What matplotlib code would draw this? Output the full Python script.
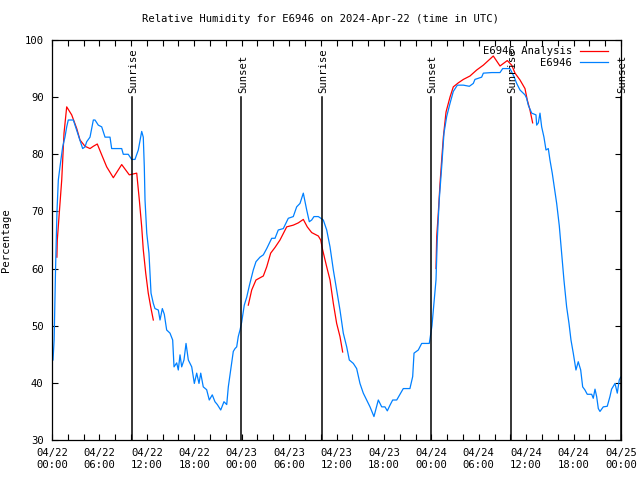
import numpy as np
import matplotlib
matplotlib.use('Agg')
import matplotlib.pyplot as plt

# hours since 2024-04-22 00:00 UTC
obs_hours = [0.13, 0.27, 0.45, 0.63, 0.80, 1.01, 1.35, 1.64, 1.86, 2.06, 2.70, 3.13, 3.54, 3.88,
             4.18, 4.39, 4.81, 5.23, 5.44, 5.86, 6.29, 6.71, 7.34, 7.55, 8.82, 9.02, 9.65, 10.08,
             10.50, 10.92, 11.35, 11.55, 11.68, 11.77, 11.99, 12.27, 12.40, 12.53, 12.82, 13.03,
             13.45, 13.67, 13.96, 14.21, 14.51, 14.93, 15.27, 15.44, 15.78, 15.98, 16.20, 16.41,
             16.70, 16.96, 17.25, 17.68, 18.01, 18.31, 18.60, 18.82, 19.14, 19.57, 19.90, 20.28,
             20.62, 20.92, 21.35, 21.76, 22.11, 22.31, 22.61, 22.94, 23.16, 23.37, 23.57, 23.79,
             24.00, 24.33, 24.64, 24.97, 25.15, 25.47, 25.81, 26.32, 26.74, 27.17, 27.80, 28.22,
             28.63, 29.27, 29.90, 30.53, 30.96, 31.38, 31.80, 32.23, 32.56, 32.86, 33.15, 33.70,
             34.33, 34.76, 35.18, 35.60, 36.02, 36.44, 36.86, 37.29, 37.62, 38.13, 38.55, 38.97,
             39.39, 39.82, 40.24, 40.74, 41.29, 41.72, 42.13, 42.43, 42.77, 43.11, 43.62, 44.03,
             44.45, 45.29, 45.64, 45.81, 46.35, 46.78, 47.74, 47.83, 48.08, 48.34, 48.59, 48.75,
             49.00, 49.31, 49.60, 49.94, 50.36, 50.78, 51.29, 52.05, 52.81, 53.31, 53.52, 54.37,
             54.58, 55.64, 56.69, 57.03, 57.95, 58.46, 58.80, 59.22, 59.85, 60.06, 60.27, 60.70,
             61.24, 61.33, 61.54, 61.75, 61.96, 62.25, 62.51, 62.80, 63.01, 63.30, 63.56, 63.86,
             64.19, 64.49, 64.78, 65.12, 65.42, 65.67, 65.96, 66.30, 66.59, 66.90, 67.15, 67.44,
             67.73, 68.29, 68.49, 68.71, 68.92, 69.13, 69.34, 69.76, 70.26, 70.60, 70.81, 71.24,
             71.53, 71.78, 71.96]
obs_rh = [44, 47.5, 60, 70, 75.5, 77.8, 81.3, 83, 84.8, 86, 86, 84.2, 82.5, 81,
          81.3, 82.2, 83, 86, 86, 85.1, 84.8, 83, 83, 81, 81, 80, 80, 79.1,
          79.1, 80.75, 84, 83, 77.8, 72, 66.2, 62.7, 59.2, 55.7, 53.9, 53,
          52.75, 51, 53, 52, 49.25, 48.7, 47.5, 42.8, 43.5, 42.25, 44.9, 42.8,
          44, 46.9, 44, 42.8, 39.9, 41.7, 39.9, 41.7, 39.3, 38.8, 37, 37.9,
          36.7, 36.2, 35.25, 36.7, 36.2, 39.3, 42.25, 45.5, 46, 46.3, 48.1, 49.25,
          50.6, 53.6, 55, 57, 58, 59.75, 61.2, 62, 62.4, 63.5, 65.3, 65.3,
          66.75, 67, 68.8, 69.1, 70.8, 71.4, 73.2, 70.25, 68.2, 68.5, 69.1, 69.1,
          68.5, 66.75, 63.8, 59.75, 56.25, 52.75, 48.7, 46.3, 44, 43.4, 42.5, 39.9,
          38.2, 37, 35.8, 34.1, 37, 35.8, 35.8, 35.1, 36.1, 37, 37, 38,
          39, 39, 41.1, 45.2, 45.75, 46.9, 46.9, 47.7, 50, 54, 58, 65,
          72, 77.8, 83.7, 86.6, 88.9, 91, 92.1, 92.1, 91.9, 92.4, 93.1, 93.5,
          94.2, 94.3, 94.3, 95, 95, 93.6, 92.4, 91.25, 90.4, 89.8, 88.6, 87.2,
          86.9, 85.1, 85.5, 87.2, 84.8, 83, 80.75, 81, 79, 76.7, 74.3, 71.4,
          67.5, 62.7, 58, 53.3, 50.4, 47.5, 45.2, 42.25, 43.7, 42.25, 39.3, 38.75,
          38, 38, 37.3, 38.9, 37.6, 35.5, 35, 35.8, 35.9, 37.6, 38.9, 39.9,
          38.2, 40.5, 41]

# analysis, three separate runs
ana_hours_1 = [0.62, 0.67, 1.23, 1.52, 1.86, 2.49, 3.13, 3.54, 4.18, 4.81, 5.23, 5.73, 6.29,
               6.92, 7.76, 8.82, 9.78, 10.72, 11.05, 11.35, 11.55, 11.86, 12.18, 12.49, 12.82]
ana_rh_1 = [62, 65, 75.5, 83.7, 88.3, 86.9, 84.5, 82.5, 81.4, 81, 81.4, 81.8, 79.9,
            77.8, 75.9, 78.2, 76.4, 76.7, 72, 67.3, 63.3, 59.2, 55.7, 53.3, 51]
ana_hours_2 = [24.84, 25.27, 25.81, 26.74, 27.17, 27.67, 28.22, 28.85, 29.70, 30.53, 31.17,
               31.80, 32.30, 32.86, 33.70, 34.00, 34.25, 34.76, 35.18, 35.60, 36.02, 36.44, 36.78]
ana_rh_2 = [53.6, 56.25, 58, 58.7, 60.3, 62.7, 63.7, 65, 67.3, 67.6, 68,
            68.6, 67.3, 66.3, 65.7, 65, 63.25, 60.3, 58, 53.9, 50.4, 48.1, 45.4]
ana_hours_3 = [48.59, 48.68, 48.88, 49.10, 49.31, 49.52, 49.86, 50.36, 50.78, 51.41, 52.05,
               52.89, 53.74, 54.58, 55.84, 56.69, 57.61, 58.17, 58.59, 59.22, 59.85, 60.14,
               60.48, 60.82]
ana_rh_3 = [60, 65.6, 69.7, 74.9, 79, 83, 87.4, 90, 91.8, 92.5, 93.1,
            93.7, 94.75, 95.6, 97.2, 95.45, 96.4, 95.6, 94.2, 93, 91.5, 89.5,
            87.75, 85.5]

sun_hours = [10.1, 23.95, 34.15, 47.95, 58.1, 71.95]
sun_labels = ['Sunrise', 'Sunset', 'Sunrise', 'Sunset', 'Sunrise', 'Sunset']

tick_hours = list(range(0, 73, 6))
tick_labels = ['04/22\n00:00', '04/22\n06:00', '04/22\n12:00', '04/22\n18:00',
               '04/23\n00:00', '04/23\n06:00', '04/23\n12:00', '04/23\n18:00',
               '04/24\n00:00', '04/24\n06:00', '04/24\n12:00', '04/24\n18:00',
               '04/25\n00:00']

plt.rcParams['font.family'] = 'DejaVu Sans Mono'
fs = 7.6
red = '#ff0000'
blue = '#0080ff'

fig = plt.figure(figsize=(6.4, 4.8), dpi=100)
ax = fig.add_axes([52 / 640, 1 - 440 / 480, 569 / 640, 400 / 480])

ax.plot(ana_hours_1, ana_rh_1, color=red, lw=0.9, label='E6946 Analysis')
ax.plot(ana_hours_2, ana_rh_2, color=red, lw=0.9)
ax.plot(ana_hours_3, ana_rh_3, color=red, lw=0.9)
ax.plot(obs_hours, obs_rh, color=blue, lw=0.9, label='E6946')

for h, lab in zip(sun_hours, sun_labels):
    ax.plot([h, h], [30, 90], color='black', lw=1.1)
    ax.text(h + 0.2, 90.8, lab, rotation=90, ha='center', va='bottom',
            fontsize=fs, clip_on=False)

ax.set_xlim(0, 72)
ax.set_ylim(30, 100)
ax.set_xticks(tick_hours)
ax.set_xticklabels(tick_labels, fontsize=fs)
ax.set_xticks(range(0, 73, 2), minor=True)
ax.set_yticks(range(30, 101, 10))
ax.tick_params(axis='both', which='both', direction='in', top=True, right=True,
               length=4, width=0.8, labelsize=fs)
ax.tick_params(axis='x', which='major', pad=6)
ax.tick_params(axis='y', which='major', pad=6)
for s in ax.spines.values():
    s.set_linewidth(0.9)

ax.set_ylabel('Percentage', fontsize=fs)
ax.yaxis.set_label_coords(-0.072, 0.5)

fig.text(0.5, 1 - 19 / 480, 'Relative Humidity for E6946 on 2024-Apr-22 (time in UTC)',
         ha='center', va='center', fontsize=fs)

ax.legend(loc='upper right', bbox_to_anchor=(1 - 9 / 569, 1 - 2 / 400), frameon=False,
          markerfirst=False, fontsize=fs, handlelength=2.6, handletextpad=0.8,
          labelspacing=0.15, borderaxespad=0)

fig.savefig('out.png', dpi=100)
